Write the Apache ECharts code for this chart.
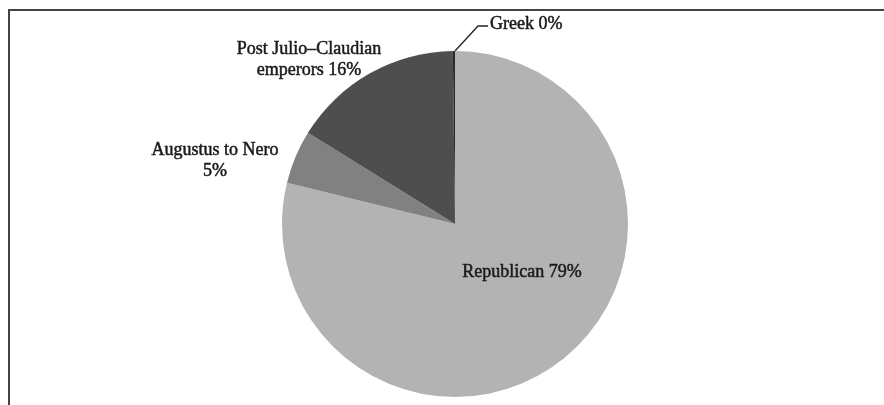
<!DOCTYPE html>
<html>
<head>
<meta charset="utf-8">
<script src="https://cdn.jsdelivr.net/npm/echarts@6/dist/echarts.min.js"></script>
<style>html,body{margin:0;padding:0;background:#fff;}#c{width:884px;height:405px;}</style>
</head>
<body>
<div id="c"></div>
<script>
var categories = ['Republican', 'Augustus to Nero', 'Post Julio\u2013Claudian emperors', 'Greek'];
var labelTexts = ['Republican 79%', 'Augustus to Nero\n5%', 'Post Julio\u2013Claudian\nemperors 16%', 'Greek 0%'];
var values = [79, 5, 16, 0.2];
var colors = ['#b3b3b3', '#818181', '#4e4e4e', '#2a2a2a'];

var chart = echarts.init(document.getElementById('c'));
var textStyle = {fontFamily: 'Liberation Serif', fontSize: 18, fontWeight: 'normal', color: '#1a1a1a', lineHeight: 21, textBorderColor: '#1a1a1a', textBorderWidth: 0.5};
var data = categories.map(function (c, i) {
  return {
    name: c,
    value: values[i],
    itemStyle: {color: colors[i]},
    label: Object.assign({show: true, formatter: labelTexts[i], position: i === 0 ? 'inside' : 'outside', align: 'center'}, textStyle),
    labelLine: {show: i === 3, lineStyle: {color: '#222', width: 1.3}}
  };
});
var labelPos = [
  {x: 522, y: 272, align: 'center', verticalAlign: 'middle'},
  {x: 215, y: 161, align: 'center', verticalAlign: 'middle'},
  {x: 309, y: 59.5, align: 'center', verticalAlign: 'middle'},
  {x: 490, y: 24, align: 'left', verticalAlign: 'middle', labelLinePoints: [[455, 51], [478, 26], [488, 26]]}
];
chart.setOption({
  animation: false,
  backgroundColor: '#fff',
  graphic: [
    {type: 'line', shape: {x1: 8, y1: 10, x2: 884, y2: 10}, style: {stroke: '#444', lineWidth: 2}},
    {type: 'line', shape: {x1: 9, y1: 10, x2: 9, y2: 405}, style: {stroke: '#444', lineWidth: 2}}
  ],
  series: [{
    type: 'pie',
    center: [455, 224],
    radius: 173,
    startAngle: 90,
    clockwise: true,
    avoidLabelOverlap: false,
    minAngle: 0,
    itemStyle: {borderWidth: 0},
    emphasis: {disabled: true},
    data: data,
    labelLayout: function (p) { return labelPos[p.dataIndex]; }
  }]
});
</script>
</body>
</html>
